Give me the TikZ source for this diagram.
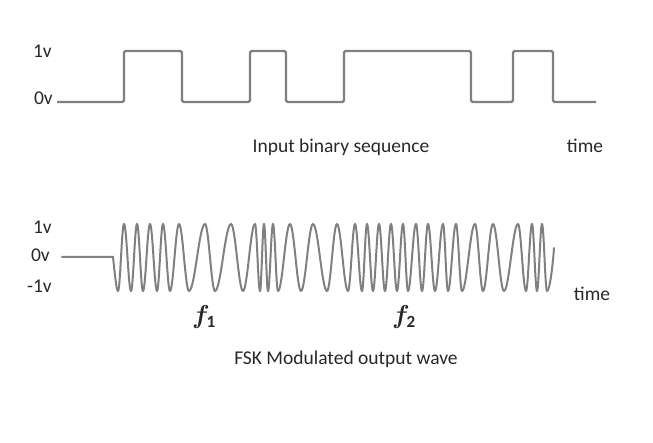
\documentclass[tikz,border=0pt]{standalone}
\usepackage{amsmath}
\usepackage{bm}
\usepackage{fontspec}
\setmainfont{Carlito}
\usepackage{tikz}

\definecolor{sigGray}{RGB}{128,128,128}
\definecolor{txtGray}{RGB}{40,40,40}

\begin{document}
\begin{tikzpicture}[x=1pt,y=-1pt,semithick,
		lbl/.style={anchor=base east,inner sep=0pt,text=txtGray},
		captxt/.style={anchor=base,inner sep=0pt,text=txtGray},
		wave/.style={draw=sigGray,line width=2pt,line cap=round}]
		\tikzstyle{square}=[draw=sigGray,line width=2.4pt,rounded corners=1.5pt]
		\useasboundingbox (0,0) rectangle (653,443);
		\fontsize{19.5}{23}\selectfont

		% input binary sequence
		\node[lbl] (oneA)  at (52,58)  {1v};
		\node[lbl] (zeroA) at (53,105) {0v};
		\draw[square] (57,102) -- (124,102) -- (124,51) -- (182,51) -- (182,102)
			-- (250,102) -- (250,51) -- (286,51) -- (286,102) -- (344,102)
			-- (344,51) -- (471,51) -- (471,102) -- (513,102) -- (513,51)
			-- (553,51) -- (553,102) -- (596,102);
		\node[captxt] (inputCap) at (341,153) {Input binary sequence};
		\node[captxt] (timeA)    at (585,153) {time};

		% FSK modulated wave
		\node[lbl] (oneB)  at (52,234) {1v};
		\node[lbl] (zeroB) at (50,262) {0v};
		\node[lbl] (minB)  at (52,293) {-1v};
		\draw[wave] (62,257) -- (113,257) .. controls (116,286) and (117,291) .. (118,291);
		\foreach \x/\y [remember=\x as \px (initially 118), remember=\y as \py (initially 291)] in
			{124/224, 131/291, 137/224, 143/291, 150/224, 157/291, 163/224, 170/291,
			 179/224, 189/291, 205/224, 215/291, 231/224, 243/291, 255/224, 260/291,
			 264/224, 268/291, 273/224, 278/291, 290/224, 301/291, 313/224, 327/291,
			 337/224, 348/291, 355/224, 362/291, 367/224, 373/291, 379/224, 385/291,
			 391/224, 397/291, 403/224, 408/291, 416/224, 422/291, 428/224, 435/291,
			 443/224, 448/291, 456/224, 462/291, 475/224, 483/291, 493/224, 504/291,
			 518/224, 526/291, 532/224, 537/291, 542/224, 547/291}
		{
			\draw[wave] (\px,\py) .. controls ({\px+0.364*(\x-\px)},\py) and ({\x-0.364*(\x-\px)},\y) .. (\x,\y);
		}
		\draw[wave] (547,291) .. controls (550,291) and (553,262) .. (554,248);
		\node[captxt,scale=1.25] (fOne) at (204,324) {$\bm{f}_{\mathbf{1}}$};
		\node[captxt,scale=1.25] (fTwo) at (404,324) {$\bm{f}_{\mathbf{2}}$};
		\node[captxt] (timeB)  at (592,301) {time};
		\node[captxt] (fskCap) at (346,365) {FSK Modulated output wave};

	\end{tikzpicture}
\end{document}
